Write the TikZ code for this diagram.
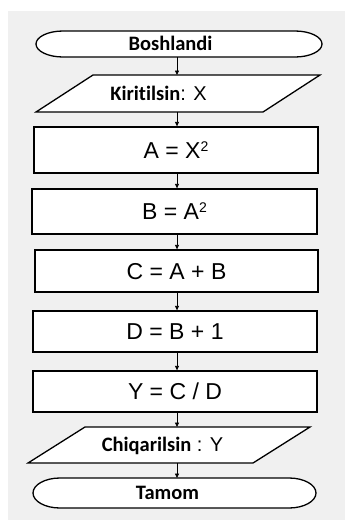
\documentclass[tikz,border=0pt]{standalone}
\usepackage{fontspec}
\setmainfont{Liberation Sans}
\newfontfamily\kwfont[Ligatures=NoCommon]{Carlito}
\usetikzlibrary{arrows.meta}
\definecolor{bggray}{HTML}{F0F0F0}
\tikzset{
  shapeline/.style={draw=black, line width=1.3pt, fill=white},
  holder/.style={inner sep=0pt, outer sep=0pt},
  boxnode/.style={draw=black, line width=1.3pt, fill=white, inner sep=0pt,
    font=\fontsize{23}{26}\selectfont, text height=16.5pt, text depth=0pt},
  kwtext/.style={inner sep=0pt, font=\kwfont\bfseries\fontsize{20.5}{24}\selectfont,
    text height=13pt, text depth=0pt},
  conn/.style={line width=0.8pt, -{Triangle[length=4.5pt,width=4pt]}}
}
\newcommand{\sqr}{\raisebox{7pt}{\fontsize{14}{14}\selectfont 2}}
\begin{document}
\begin{tikzpicture}[x=1pt,y=1pt]
\useasboundingbox (0,0) rectangle (347,-520);
\fill[bggray] (8,-11) rectangle (345,-520);
\coordinate (axis) at (177,0);

% terminal start
\node[holder, minimum width=286pt, minimum height=26pt] (start) at (179,-44) {};
\draw[shapeline] ([xshift=27pt]start.north west) -- ([xshift=-27pt]start.north east)
  arc[start angle=90,end angle=-90,x radius=27pt,y radius=13pt]
  -- ([xshift=27pt]start.south west)
  arc[start angle=270,end angle=90,x radius=27pt,y radius=13pt] -- cycle;
\node[kwtext] (starttext) at (170.5,-44) {Boshlandi};

% input
\node[holder, minimum width=284pt, minimum height=37pt] (in) at (178,-93.5) {};
\draw[shapeline] ([xshift=57pt]in.north west) -- (in.north east)
  -- ([xshift=-57pt]in.south east) -- (in.south west) -- cycle;
\node[kwtext] (intext) at (158.5,-93.5) {Kiritilsin\fontspec{Liberation Sans}\mdseries\fontsize{20}{24}\selectfont: X};

% process boxes
\node[boxnode, minimum width=284pt, minimum height=46pt] (a) at (176,-150) {A = X\sqr};
\node[boxnode, minimum width=285pt, minimum height=45pt] (b) at (174.5,-211.5) {B = A\sqr};
\node[boxnode, minimum width=283pt, minimum height=42pt] (c) at (176.5,-271) {C = A + B};
\node[boxnode, minimum width=284pt, minimum height=41pt] (d) at (175,-331.5) {D = B + 1};
\node[boxnode, minimum width=284pt, minimum height=41pt] (y) at (175,-391.5) {Y = C / D};

% output
\node[holder, minimum width=282pt, minimum height=36pt] (out) at (169,-445) {};
\draw[shapeline] ([xshift=57pt]out.north west) -- (out.north east)
  -- ([xshift=-57pt]out.south east) -- (out.south west) -- cycle;
\node[kwtext] (outtext) at (162.5,-445) {Chiqarilsin\fontspec{Liberation Sans}\mdseries\fontsize{20}{24}\selectfont{} : Y};

% terminal end
\node[holder, minimum width=283pt, minimum height=30pt] (stop) at (174.5,-493) {};
\draw[shapeline] ([xshift=27pt]stop.north west) -- ([xshift=-27pt]stop.north east)
  arc[start angle=90,end angle=-90,x radius=27pt,y radius=15pt]
  -- ([xshift=27pt]stop.south west)
  arc[start angle=270,end angle=90,x radius=27pt,y radius=15pt] -- cycle;
\node[kwtext] (stoptext) at (167.5,-493) {Tamom};

% connectors
\draw[conn] (start.south -| axis) -- (in.north -| axis);
\draw[conn] (in.south -| axis) -- (a.north -| axis);
\draw[conn] (a.south -| axis) -- (b.north -| axis);
\draw[conn] (b.south -| axis) -- (c.north -| axis);
\draw[conn] (c.south -| axis) -- (d.north -| axis);
\draw[conn] (d.south -| axis) -- (y.north -| axis);
\draw[conn] (y.south -| axis) -- (out.north -| axis);
\draw[conn] (out.south -| axis) -- (stop.north -| axis);
\end{tikzpicture}
\end{document}
